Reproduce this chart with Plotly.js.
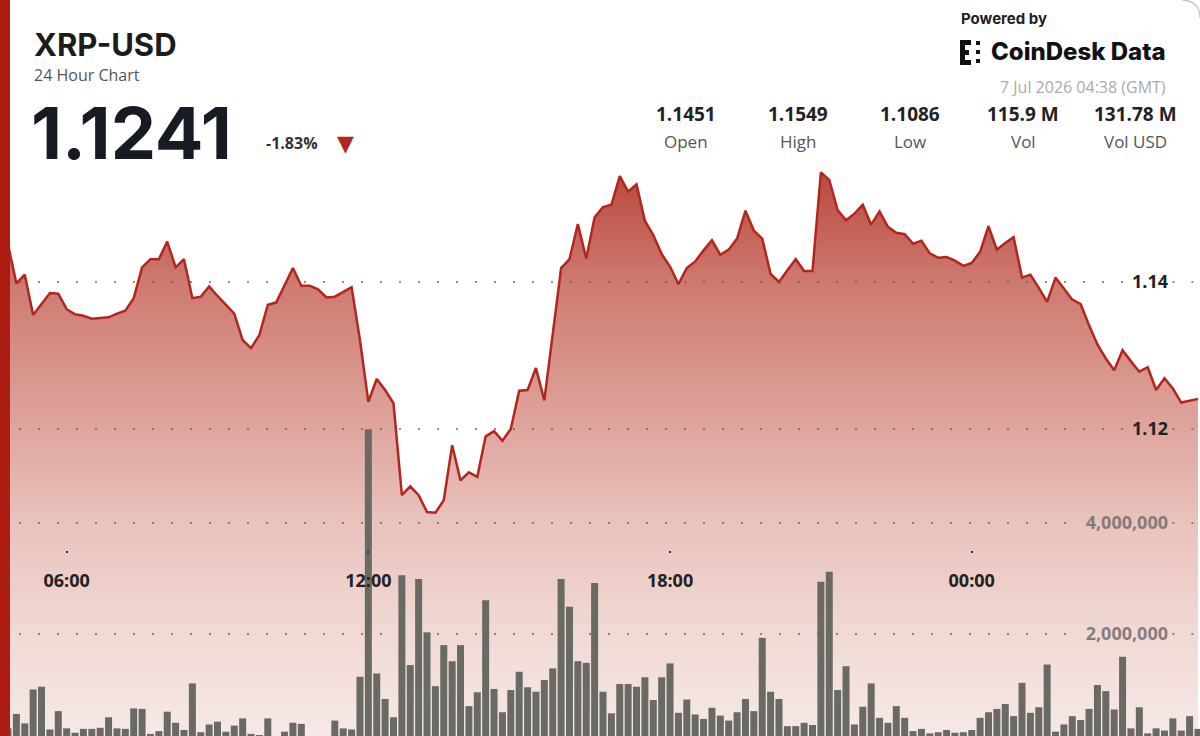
<!DOCTYPE html>
<html>
<head>
<meta charset="utf-8">
<script src="https://cdn.plot.ly/plotly-3.0.1.min.js"></script>
<style>
  html, body { margin: 0; padding: 0; background: #fff; }
  #chart { width: 1200px; height: 736px; }
</style>
</head>
<body>
<div id="chart"></div>
<script>
// XRP-USD 24h chart, 10 minute candles (GMT)
const startTime = '2026-07-06 04:50';
const stepMinutes = 10;

const prices = [
  1.1451, 1.1398, 1.1410, 1.1355, 1.1370, 1.1385, 1.1384, 1.1363, 1.1356, 1.1354,
  1.1350, 1.1351, 1.1352, 1.1357, 1.1361, 1.1378, 1.1420, 1.1431, 1.1431, 1.1455,
  1.1420, 1.1431, 1.1378, 1.1380, 1.1394, 1.1381, 1.1369, 1.1357, 1.1321, 1.1310,
  1.1328, 1.1369, 1.1372, 1.1396, 1.1419, 1.1395, 1.1395, 1.1390, 1.1379, 1.1380,
  1.1387, 1.1393, 1.1321, 1.1237, 1.1268, 1.1253, 1.1235, 1.1110, 1.1122, 1.1110,
  1.1087, 1.1086, 1.1103, 1.1178, 1.1130, 1.1141, 1.1135, 1.1190, 1.1197, 1.1184,
  1.1200, 1.1252, 1.1253, 1.1283, 1.1239, 1.1330, 1.1419, 1.1431, 1.1479, 1.1432,
  1.1488, 1.1502, 1.1505, 1.1544, 1.1523, 1.1533, 1.1483, 1.1464, 1.1438, 1.1421,
  1.1397, 1.1419, 1.1428, 1.1443, 1.1457, 1.1437, 1.1444, 1.1459, 1.1497, 1.1470,
  1.1459, 1.1411, 1.1400, 1.1416, 1.1431, 1.1415, 1.1415, 1.1549, 1.1539, 1.1498,
  1.1484, 1.1493, 1.1505, 1.1478, 1.1496, 1.1475, 1.1467, 1.1465, 1.1452, 1.1456,
  1.1439, 1.1433, 1.1434, 1.1429, 1.1422, 1.1426, 1.1441, 1.1476, 1.1444, 1.1453,
  1.1461, 1.1406, 1.1410, 1.1392, 1.1373, 1.1406, 1.1391, 1.1376, 1.1370, 1.1341,
  1.1315, 1.1296, 1.1280, 1.1307, 1.1292, 1.1278, 1.1284, 1.1253, 1.1269, 1.1255,
  1.1236, 1.1239, 1.1241
];

const volumes = [
  300000, 560000, 390000, 1000000, 1050000, 280000, 610000, 300000, 220000, 290000,
  290000, 310000, 500000, 300000, 290000, 660000, 650000, 200000, 250000, 600000,
  400000, 270000, 1110000, 230000, 370000, 420000, 240000, 350000, 480000, 200000,
  180000, 480000, 120000, 240000, 400000, 380000, 100000, 120000, 100000, 440000,
  300000, 280000, 1230000, 5690000, 1290000, 830000, 500000, 3060000, 1440000, 2990000,
  2030000, 1060000, 1800000, 1510000, 1800000, 700000, 950000, 2610000, 1010000, 590000,
  990000, 1320000, 1040000, 960000, 1170000, 1380000, 2990000, 2490000, 1510000, 1480000,
  2920000, 960000, 570000, 1100000, 1100000, 1050000, 1220000, 810000, 1220000, 1470000,
  580000, 820000, 550000, 470000, 670000, 530000, 440000, 590000, 830000, 610000,
  1930000, 960000, 830000, 340000, 340000, 400000, 360000, 2940000, 3120000, 990000,
  1420000, 370000, 690000, 1110000, 490000, 400000, 700000, 490000, 250000, 290000,
  210000, 230000, 270000, 220000, 230000, 270000, 490000, 590000, 650000, 740000,
  520000, 1120000, 580000, 680000, 1450000, 240000, 370000, 520000, 450000, 650000,
  1080000, 970000, 640000, 1590000, 300000, 680000, 210000, 300000, 260000, 480000,
  260000, 520000, 290000
];

const priceTicks = [1.12, 1.14];
const volumeTicks = [2000000, 4000000];
const timeTicks = ['2026-07-06 06:00', '2026-07-06 12:00', '2026-07-06 18:00', '2026-07-07 00:00'];
const timeTickText = ['06:00', '12:00', '18:00', '00:00'];

const statValues = ['1.1451', '1.1549', '1.1086', '115.9 M', '131.78 M'];
const statLabels = ['Open', 'High', 'Low', 'Vol', 'Vol USD'];

const W = 1200, H = 736;
const px = x => x / W;
const py = y => 1 - y / H;

function buildTimes(start, step, count) {
    const t0 = new Date(start.replace(' ', 'T') + ':00Z').getTime();
    const out = [];
    for (let i = 0; i < count; i++) {
        const d = new Date(t0 + i * step * 60000);
        out.push(d.toISOString().slice(0, 16).replace('T', ' '));
    }
    return out;
}

const times = buildTimes(startTime, stepMinutes, prices.length);

const priceTrace = {
    x: times,
    y: prices,
    type: 'scatter',
    mode: 'lines',
    line: { color: '#b3261e', width: 2.5 },
    fill: 'tozeroy',
    fillgradient: {
        type: 'vertical',
        start: 1.0782,
        stop: 1.1552,
        colorscale: [
            [0, 'rgb(246,233,231)'],
            [0.18, 'rgb(241,217,213)'],
            [0.38, 'rgb(233,194,188)'],
            [0.54, 'rgb(223,166,158)'],
            [0.80, 'rgb(206,122,112)'],
            [1, 'rgb(186,72,62)']
        ]
    },
    yaxis: 'y',
    hoverinfo: 'skip'
};

const volumeTrace = {
    x: times,
    y: volumes,
    type: 'bar',
    marker: { color: 'rgb(104,106,99)', line: { width: 0 } },
    yaxis: 'y2',
    hoverinfo: 'skip'
};

const tickFont = { family: 'Open Sans', size: 18, color: '#222', weight: 700 };
const gridLine = { color: 'rgba(95,95,95,0.7)', width: 2, dash: '2px,17px' };

function gridShapes(vals, yref, gapStart) {
    const out = [];
    vals.forEach(v => {
        out.push({ type: 'line', xref: 'paper', yref: yref, x0: 0, x1: gapStart, y0: v, y1: v, line: gridLine, layer: 'above' });
        out.push({ type: 'line', xref: 'paper', yref: yref, x0: 0.977, x1: 1, y0: v, y1: v, line: gridLine, layer: 'above' });
    });
    return out;
}

function box(x0, y0, x1, y1, color) {
    return { type: 'rect', xref: 'paper', yref: 'paper', x0: px(x0), x1: px(x1), y0: py(y1), y1: py(y0),
             fillcolor: color, line: { width: 0 }, layer: 'above' };
}

// logo mark, left red stripe, card corner
const logo = [
    box(960, 40, 965, 65, '#111'),
    box(960, 40, 971, 45, '#111'),
    box(960, 60, 971, 65, '#111'),
    box(965, 50, 969, 55, '#111'),
    box(976, 41, 980, 45, '#111'),
    box(976, 50, 980, 54, '#111'),
    box(976, 59, 980, 63, '#111')
];
const stripe = box(0, 0, 10, H, '#ad1c10');
const corner = {
    type: 'path', xref: 'paper', yref: 'paper', layer: 'above',
    path: 'M ' + px(1182) + ' ' + py(0) + ' Q ' + px(1200) + ' ' + py(1) + ' ' + px(1200) + ' ' + py(18),
    line: { color: '#c8c8c8', width: 1.5 }
};

function note(text, x, y, font, xanchor) {
    return { text: text, x: px(x), y: py(y), xref: 'paper', yref: 'paper', showarrow: false,
             xanchor: xanchor || 'left', yanchor: 'middle', font: font };
}

const annotations = [
    note('XRP-USD', 32, 44, { family: 'Inter', size: 31, color: '#1c1c1c', weight: 700 }),
    note('24 Hour Chart', 32, 75, { family: 'Open Sans', size: 16, color: '#555' }),
    note('1.1241', 29, 133, { family: 'Inter', size: 72, color: '#161b26', weight: 700 }),
    note('-1.83%', 264, 143, { family: 'Open Sans', size: 16, color: '#333', weight: 700 }),
    note('▼', 345, 143, { family: 'DejaVu Sans', size: 22, color: '#b3261e' }, 'center'),
    note('Powered by', 959, 18, { family: 'Inter', size: 15, color: '#222', weight: 700 }),
    note('CoinDesk Data', 989, 52, { family: 'Inter', size: 24, color: '#111', weight: 800 }),
    note('7 Jul 2026 04:38 (GMT)', 1168, 87, { family: 'Open Sans', size: 16, color: '#aaa' }, 'right')
];
const statCenters = [686, 798, 910, 1023, 1135];
statValues.forEach((v, i) => {
    annotations.push(note(v, statCenters[i], 114, { family: 'Open Sans', size: 19, color: '#222', weight: 700 }, 'center'));
    annotations.push(note(statLabels[i], statCenters[i], 141, { family: 'Open Sans', size: 17, color: '#555' }, 'center'));
});

const layout = {
    width: W,
    height: H,
    margin: { t: 0, r: 0, b: 0, l: 0 },
    paper_bgcolor: 'white',
    plot_bgcolor: 'rgba(0,0,0,0)',
    showlegend: false,
    hovermode: false,
    bargap: 0.165,
    xaxis: {
        type: 'date',
        range: ['2026-07-06 04:40:27', '2026-07-07 04:32:24'],
        anchor: 'free',
        position: py(550),
        tickvals: timeTicks,
        ticktext: timeTickText,
        ticks: 'outside',
        ticklen: 2,
        tickwidth: 2,
        tickcolor: '#333',
        tickfont: tickFont,
        ticklabelstandoff: 12,
        showgrid: false,
        zeroline: false,
        showline: false
    },
    yaxis: {
        range: [1.078231, 1.178367],
        anchor: 'free',
        position: px(1168),
        side: 'left',
        tickvals: priceTicks,
        ticktext: priceTicks.map(v => v.toFixed(2)),
        ticks: '',
        tickfont: tickFont,
        showgrid: false,
        zeroline: false,
        showline: false
    },
    yaxis2: {
        overlaying: 'y',
        range: [162162, 13423000],
        anchor: 'free',
        position: px(1168),
        side: 'left',
        tickvals: volumeTicks,
        tickformat: ',d',
        ticks: '',
        tickfont: { family: 'Open Sans', size: 18, color: 'rgba(110,110,110,0.85)', weight: 700 },
        showgrid: false,
        zeroline: false,
        showline: false
    },
    shapes: gridShapes(priceTicks, 'y', 0.94)
        .concat(gridShapes(volumeTicks, 'y2', 0.902))
        .concat(logo)
        .concat([stripe, corner]),
    annotations: annotations
};

Plotly.newPlot('chart', [priceTrace, volumeTrace], layout, { displayModeBar: false, staticPlot: true });
</script>
</body>
</html>
